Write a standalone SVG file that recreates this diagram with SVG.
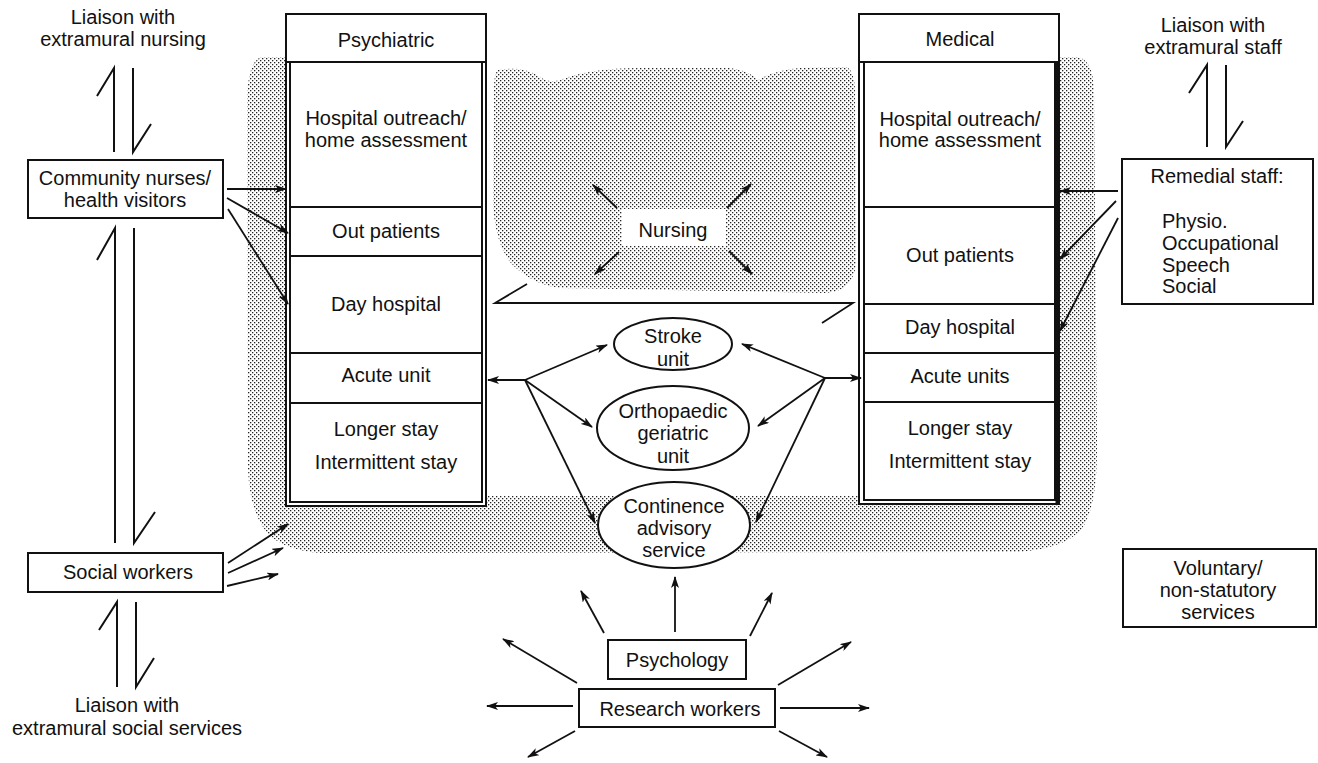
<svg xmlns="http://www.w3.org/2000/svg" width="1318" height="763" viewBox="0 0 1318 763">
<style>
text{font-family:"Liberation Sans",Arial,sans-serif;font-size:20px;fill:#111;text-anchor:middle}
.l{text-anchor:start}
.box{fill:#fff;stroke:#111;stroke-width:2}
.ln{fill:none;stroke:#111;stroke-width:1.8}
.arr{fill:none;stroke:#111;stroke-width:1.8;marker-end:url(#ah)}
.hp{fill:none;stroke:#111;stroke-width:2;stroke-linejoin:miter}
</style>
<defs>
<pattern id="dots" width="4" height="4" patternUnits="userSpaceOnUse">
<rect width="4" height="4" fill="#fff"/>
<rect x="0" y="0" width="1.3" height="1.3" fill="#222"/>
<rect x="2" y="2" width="1.3" height="1.3" fill="#222"/>
</pattern>
<marker id="ah" viewBox="0 0 12 8" refX="11" refY="4" markerWidth="12" markerHeight="8" markerUnits="userSpaceOnUse" orient="auto">
<path d="M0,0 L12,4 L0,8 L3,4 Z" fill="#111"/>
</marker>
</defs>
<rect width="1318" height="763" fill="#fff"/>

<g id="shading">
<path d="M262 57 L290 57 L290 496 L1057 496 L1057 57 L1078 57 Q1093 60 1094 90 L1097 440 Q1098 520 1075 535 Q1060 548 1020 552 L320 553 Q280 550 265 530 Q250 510 248 470 L247 100 Q248 60 262 57 Z" fill="url(#dots)"/>
<path d="M498 70 Q520 66 535 74 Q548 84 560 80 Q590 68 640 68 L730 68 Q748 70 758 80 Q775 70 800 68 L846 67 Q856 70 855 100 L856 265 Q852 292 825 293 L560 288 Q530 284 510 262 Q494 240 493 200 L494 100 Q493 74 498 70 Z" fill="url(#dots)"/>
</g>

<g id="nursing">
<rect x="622" y="209" width="104" height="37" fill="#fff"/>
<text x="673" y="237">Nursing</text>
</g>

<g id="psychiatric">
<rect class="box" x="286" y="14" width="200" height="492"/>
<line class="ln" x1="286" y1="62" x2="486" y2="62" stroke-width="2"/>
<rect class="box" x="290" y="62" width="192" height="440"/>
<line class="ln" x1="290" y1="207" x2="482" y2="207"/>
<line class="ln" x1="290" y1="256" x2="482" y2="256"/>
<line class="ln" x1="290" y1="353" x2="482" y2="353"/>
<line class="ln" x1="290" y1="403" x2="482" y2="403"/>
<text x="386" y="47">Psychiatric</text>
<text x="386" y="125">Hospital outreach/</text>
<text x="386" y="147">home assessment</text>
<text x="386" y="238">Out patients</text>
<text x="386" y="311">Day hospital</text>
<text x="386" y="382">Acute unit</text>
<text x="386" y="436">Longer stay</text>
<text x="386" y="469">Intermittent stay</text>
</g>

<g id="medical">
<rect class="box" x="859" y="14" width="200" height="490"/>
<line class="ln" x1="859" y1="62" x2="1059" y2="62" stroke-width="2"/>
<rect class="box" x="864" y="62" width="191" height="438"/>
<line x1="1057" y1="62" x2="1057" y2="504" stroke="#111" stroke-width="3"/>
<line class="ln" x1="864" y1="207" x2="1055" y2="207"/>
<line class="ln" x1="864" y1="304" x2="1055" y2="304"/>
<line class="ln" x1="864" y1="353" x2="1055" y2="353"/>
<line class="ln" x1="864" y1="402" x2="1055" y2="402"/>
<text x="960" y="46">Medical</text>
<text x="960" y="126">Hospital outreach/</text>
<text x="960" y="147">home assessment</text>
<text x="960" y="262">Out patients</text>
<text x="960" y="334">Day hospital</text>
<text x="960" y="383">Acute units</text>
<text x="960" y="435">Longer stay</text>
<text x="960" y="468">Intermittent stay</text>
</g>

<g id="liaison-nursing">
<text x="123" y="24">Liaison with</text>
<text x="123" y="46">extramural nursing</text>
</g>
<g id="community-nurses">
<rect class="box" x="28" y="160" width="195" height="58"/>
<text x="125" y="185">Community nurses/</text>
<text x="125" y="207">health visitors</text>
</g>
<g id="social-workers">
<rect class="box" x="28" y="553" width="195" height="39"/>
<text x="128" y="579">Social workers</text>
</g>
<g id="liaison-social">
<text x="127" y="712">Liaison with</text>
<text x="127" y="735">extramural social services</text>
</g>

<g id="liaison-staff">
<text x="1213" y="32">Liaison with</text>
<text x="1213" y="54">extramural staff</text>
</g>
<g id="remedial-staff">
<rect class="box" x="1122" y="159" width="191" height="145"/>
<text x="1217" y="183">Remedial staff:</text>
<text class="l" x="1162" y="228">Physio.</text>
<text class="l" x="1162" y="250">Occupational</text>
<text class="l" x="1162" y="272">Speech</text>
<text class="l" x="1162" y="293">Social</text>
</g>
<g id="voluntary">
<rect class="box" x="1123" y="549" width="193" height="78"/>
<text x="1218" y="575">Voluntary/</text>
<text x="1218" y="597">non-statutory</text>
<text x="1218" y="619">services</text>
</g>

<g id="stroke-unit">
<ellipse class="box" cx="673" cy="344" rx="59" ry="26"/>
<text x="673" y="343">Stroke</text>
<text x="673" y="366">unit</text>
</g>
<g id="orthopaedic">
<ellipse class="box" cx="673" cy="428" rx="76" ry="42"/>
<text x="673" y="418">Orthopaedic</text>
<text x="673" y="440">geriatric</text>
<text x="673" y="463">unit</text>
</g>
<g id="continence">
<ellipse class="box" cx="674" cy="525" rx="76" ry="43"/>
<text x="674" y="513">Continence</text>
<text x="674" y="535">advisory</text>
<text x="674" y="557">service</text>
</g>

<g id="psychology">
<rect class="box" x="608" y="640" width="138" height="39"/>
<text x="677" y="667">Psychology</text>
</g>
<g id="research-workers">
<rect class="box" x="579" y="689" width="196" height="38"/>
<text x="680" y="716">Research workers</text>
</g>

<g id="connectors">
<path class="hp" d="M114 152 L114 68 L97 96"/>
<path class="hp" d="M133 68 L133 152 L151 124"/>
<path class="hp" d="M115 543 L115 228 L97 260"/>
<path class="hp" d="M134 228 L134 543 L155 512"/>
<path class="hp" d="M117 687 L117 602 L99 630"/>
<path class="hp" d="M136 602 L136 687 L154 658"/>
<path class="hp" d="M1207 147 L1207 65 L1189 93"/>
<path class="hp" d="M1226 65 L1226 147 L1243 121"/>
<line class="arr" x1="227" y1="189" x2="286" y2="189"/>
<line class="arr" x1="227" y1="198" x2="288" y2="233"/>
<line class="arr" x1="228" y1="209" x2="288" y2="304"/>
<line class="arr" x1="228" y1="563" x2="288" y2="524"/>
<line class="arr" x1="228" y1="573" x2="283" y2="548"/>
<line class="arr" x1="227" y1="586" x2="278" y2="574"/>
<line class="arr" x1="1118" y1="191" x2="1060" y2="191"/>
<line class="arr" x1="1116" y1="201" x2="1060" y2="259"/>
<line class="arr" x1="1118" y1="218" x2="1060" y2="331"/>
<line class="arr" x1="617" y1="208" x2="593" y2="185"/>
<line class="arr" x1="727" y1="208" x2="751" y2="184"/>
<line class="arr" x1="619" y1="252" x2="595" y2="274"/>
<line class="arr" x1="729" y1="251" x2="752" y2="274"/>
<path class="ln" d="M527 284 L495 303 L853 303 L822 323" stroke-width="2"/>
<line class="arr" x1="525" y1="380" x2="488" y2="380"/>
<line class="arr" x1="525" y1="380" x2="607" y2="345"/>
<line class="arr" x1="525" y1="380" x2="592" y2="427"/>
<line class="arr" x1="525" y1="380" x2="595" y2="523"/>
<line class="arr" x1="825" y1="378" x2="861" y2="378"/>
<line class="arr" x1="825" y1="378" x2="742" y2="344"/>
<line class="arr" x1="825" y1="378" x2="758" y2="426"/>
<line class="arr" x1="825" y1="378" x2="756" y2="522"/>
<line class="arr" x1="675" y1="632" x2="675" y2="577"/>
<line class="arr" x1="604" y1="633" x2="581" y2="591"/>
<line class="arr" x1="750" y1="636" x2="772" y2="593"/>
<line class="arr" x1="577" y1="683" x2="503" y2="639"/>
<line class="arr" x1="778" y1="685" x2="851" y2="642"/>
<line class="arr" x1="573" y1="706" x2="487" y2="706"/>
<line class="arr" x1="780" y1="708" x2="869" y2="708"/>
<line class="arr" x1="575" y1="731" x2="528" y2="757"/>
<line class="arr" x1="779" y1="731" x2="827" y2="757"/>
</g>
</svg>
